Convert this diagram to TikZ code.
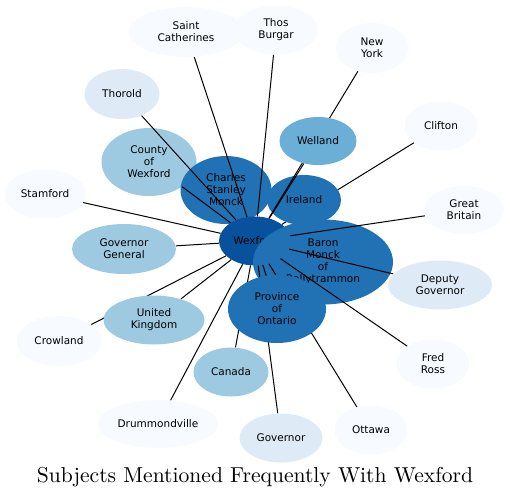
\documentclass[tikz,border=0pt]{standalone}
\usepackage{fontspec}
\newfontfamily\subjfont{DejaVu Sans}
\newfontfamily\titfont{lmroman10-regular.otf}
\usepackage{xcolor}
\definecolor{blues0}{HTML}{F7FBFF}
\definecolor{blues1}{HTML}{DEEBF7}
\definecolor{blues2}{HTML}{9ECAE1}
\definecolor{blues3}{HTML}{6BAED6}
\definecolor{blues4}{HTML}{2171B5}
\definecolor{blues5}{HTML}{08519C}
\usepackage{tikz}
\usetikzlibrary{shapes.geometric}
\pgfdeclarelayer{fondo}
\pgfdeclarelayer{aristas}
\pgfsetlayers{fondo,aristas,main}

\begin{document}
\begin{tikzpicture}[
  x=1pt, y=-1pt,
  tema/.style={
    ellipse, draw=none, inner sep=0pt, align=center, text=black,
    font=\subjfont\fontsize{10.5}{12}\selectfont
  },
  sz/.style 2 args={minimum width=#1pt, minimum height=#2pt},
  lvl0/.style={tema, fill=blues0},
  lvl1/.style={tema, fill=blues1},
  lvl2/.style={tema, fill=blues2},
  lvl3/.style={tema, fill=blues3},
  lvl4/.style={tema, fill=blues4},
  lvl5/.style={tema, fill=blues5},
  enlace/.style={draw=black, line width=1pt},
]
\useasboundingbox (0,0) rectangle (510,499);

%% Nodos exteriores
\node[lvl0, sz={115}{50}] (stcath)   at (186,32)  {Saint\\Catherines};
\node[lvl0, sz={83}{49}]  (thos)     at (276,30)  {Thos\\Burgar};
\node[lvl0, sz={73}{50}]  (newyork)  at (372,48)  {New\\York};
\node[lvl1, sz={75}{50}]  (thorold)  at (122,94)  {Thorold};
\node[lvl3, sz={77}{48}]  (welland)  at (318,141) {Welland};
\node[lvl0, sz={73}{49}]  (clifton)  at (441,126) {Clifton};
\node[lvl0, sz={81}{49}]  (stamford) at (45,194)  {Stamford};
\node[lvl0, sz={80}{48}]  (gbritain) at (464,210) {Great\\Britain};
\node[lvl2, sz={104}{50}] (govgen)   at (124,249) {Governor\\General};
\node[lvl1, sz={104}{49}] (depgov)   at (440,285) {Deputy\\Governor};
\node[lvl4, sz={98}{68}]  (province) at (277,309) {Province\\of\\Ontario};
\node[lvl2, sz={101}{49}] (ukingdom) at (154,320) {United\\Kingdom};
\node[lvl0, sz={85}{50}]  (crowland) at (59,341)  {Crowland};
\node[lvl0, sz={73}{49}]  (fred)     at (433,364) {Fred\\Ross};
\node[lvl2, sz={75}{49}]  (canada)   at (231,372) {Canada};
\node[lvl0, sz={120}{48}] (drummond) at (158,424) {Drummondville};
\node[lvl1, sz={83}{49}]  (governor) at (281,438) {Governor};
\node[lvl0, sz={73}{49}]  (ottawa)   at (371,430) {Ottawa};

%% Nodos de fondo (bajo las aristas)
\begin{pgfonlayer}{fondo}
\node[lvl2, sz={95}{68}]  (county)   at (149,162) {County\\of\\Wexford};
\node[lvl4, sz={91}{68}]  (charles)  at (226,190) {Charles\\Stanley\\Monck};
\node[lvl5, sz={72}{49}]  (wexford)  at (255,241) {Wexford};
\draw[enlace] (wexford) -- (clifton);
\node[lvl4, sz={74}{50}]  (ireland)  at (304,200) {Ireland};
\node[lvl4, sz={140}{85}] (baron)    at (323,262) {Baron\\Monck\\of\\Ballytrammon};
\end{pgfonlayer}

%% Aristas
\begin{pgfonlayer}{aristas}
\foreach \n in {stcath, thos, newyork, thorold, county, stamford, govgen,
                ukingdom, crowland, drummond, canada, province, governor,
                ottawa, fred, depgov, gbritain, welland}
  \draw[enlace] (wexford) -- (\n);
\end{pgfonlayer}

%% Titulo
\node[font=\titfont\fontsize{21.6}{26}\selectfont] (titulo) at (255,477)
  {Subjects Mentioned Frequently With Wexford};

\end{tikzpicture}
\end{document}
